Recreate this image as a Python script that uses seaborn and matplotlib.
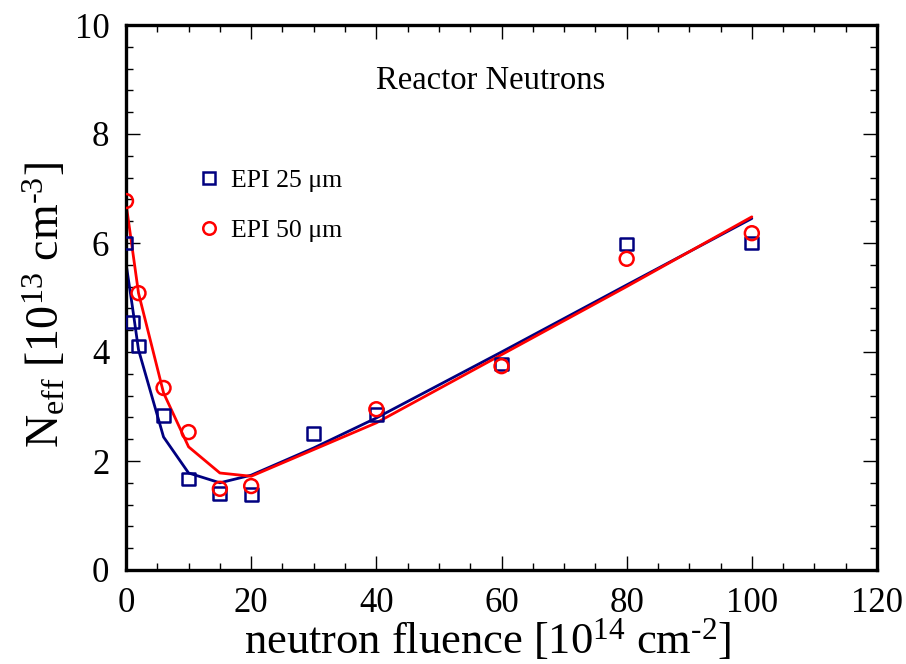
import matplotlib
matplotlib.use("Agg")
import matplotlib.pyplot as plt
import seaborn as sns
import pandas as pd
from matplotlib.lines import Line2D
from matplotlib.ticker import MultipleLocator

# ---- data ----
fluence_25 = [0, 1, 2, 6, 10, 15, 20, 30, 40, 60, 80, 100]
neff_25 = [6.0, 4.55, 4.11, 2.83, 1.67, 1.41, 1.39, 2.51, 2.86, 3.78, 5.98, 6.0]
fit_fluence_25 = [0, 1, 2, 6, 10, 15, 20, 30, 40, 60, 80, 100]
fit_neff_25 = [5.63, 4.85, 4.04, 2.44, 1.78, 1.60, 1.74, 2.24, 2.79, 4.00, 5.23, 6.45]

fluence_50 = [0, 2, 6, 10, 15, 20, 40, 60, 80, 100]
neff_50 = [6.77, 5.08, 3.34, 2.53, 1.49, 1.54, 2.95, 3.74, 5.71, 6.18]
fit_fluence_50 = [0, 2, 6, 10, 15, 20, 40, 60, 80, 100]
fit_neff_50 = [6.73, 5.08, 3.25, 2.26, 1.78, 1.72, 2.70, 3.95, 5.20, 6.48]

label_25 = "EPI 25 μm"
label_50 = "EPI 50 μm"
title_text = "Reactor Neutrons"
x_ticks = [0, 20, 40, 60, 80, 100, 120]
y_ticks = [0, 2, 4, 6, 8, 10]

BLUE = "#000080"
RED = "#ff0000"

sns.set_theme(style="ticks")
plt.rcParams["font.family"] = ["Liberation Serif", "DejaVu Serif"]
plt.rcParams["mathtext.fontset"] = "custom"
plt.rcParams["mathtext.rm"] = "Liberation Serif"
plt.rcParams["mathtext.it"] = "Liberation Serif:italic"
plt.rcParams["text.color"] = "black"
plt.rcParams["axes.labelcolor"] = "black"

fig = plt.figure(figsize=(9.06, 6.64), dpi=100)
ax = fig.add_axes([126 / 906, 1 - 570 / 664, (877 - 126) / 906, (570 - 25) / 664])

df25 = pd.DataFrame({"x": fit_fluence_25, "y": fit_neff_25})
df50 = pd.DataFrame({"x": fit_fluence_50, "y": fit_neff_50})
sns.lineplot(data=df25, x="x", y="y", color=BLUE, lw=2.0, ax=ax, sort=False)
sns.lineplot(data=df50, x="x", y="y", color=RED, lw=2.0, ax=ax, sort=False)

pts25 = pd.DataFrame({"x": fluence_25, "y": neff_25})
pts50 = pd.DataFrame({"x": fluence_50, "y": neff_50})
sns.scatterplot(data=pts25, x="x", y="y", marker="s", s=85, facecolors="none",
                edgecolor=BLUE, linewidth=1.8, ax=ax, zorder=3)
sns.scatterplot(data=pts50, x="x", y="y", marker="o", s=100, facecolors="none",
                edgecolor=RED, linewidth=1.8, ax=ax, zorder=3)

ax.set_xlim(0, 120)
ax.set_ylim(0, 10)
ax.set_xticks(x_ticks)
ax.set_yticks(y_ticks)
ax.xaxis.set_minor_locator(MultipleLocator(5))
ax.yaxis.set_minor_locator(MultipleLocator(0.4))
ax.tick_params(which="both", direction="in", top=True, right=True, color="black")
ax.tick_params(which="major", length=10, width=1.0, labelsize=25, pad=12, labelcolor="black")
ax.tick_params(which="minor", length=5, width=1.0)
for sp in ax.spines.values():
    sp.set_linewidth(2.4)
    sp.set_color("black")

HY = "\u2010"
ax.set_xlabel("neutron fluence [10$^{14}$ cm$^{" + HY + "2}$]", fontsize=32, color="black")
ax.set_ylabel(r"N$_{\mathregular{eff}}$ [10$^{13}$ cm$^{" + HY + "3}$]", fontsize=33, color="black")
ax.xaxis.set_label_coords(0.481, -0.086)
ax.yaxis.set_label_coords(-0.076, 0.486)

ax.text(0.485, 0.897, title_text, transform=ax.transAxes, fontsize=23.5,
        ha="center", va="center", color="black")

handles = [
    Line2D([], [], marker="s", ls="none", markersize=9, markerfacecolor="none",
           markeredgecolor=BLUE, markeredgewidth=1.8, label=label_25),
    Line2D([], [], marker="o", ls="none", markersize=9, markerfacecolor="none",
           markeredgecolor=RED, markeredgewidth=1.8, label=label_50),
]
ax.legend(handles=handles, loc="upper left", bbox_to_anchor=(0.08, 0.755),
          frameon=False, fontsize=18.5, labelspacing=1.05, handlelength=1.0,
          handletextpad=0.35, borderaxespad=0, labelcolor="black")

fig.savefig("out.png", dpi=100, facecolor="white")
